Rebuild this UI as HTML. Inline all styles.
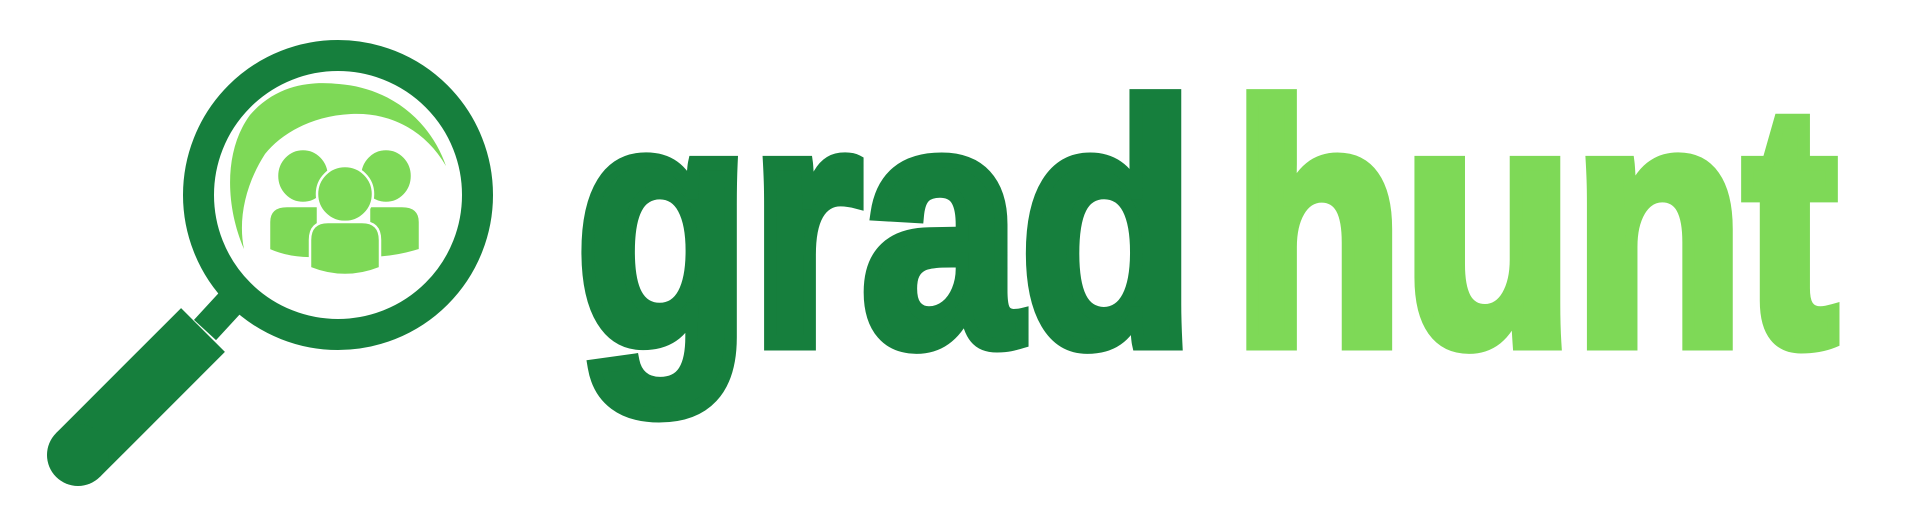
<!DOCTYPE html>
<html><head><meta charset="utf-8"><style>
html,body{margin:0;padding:0;background:#fff;width:1920px;height:524px;overflow:hidden}
svg{display:block}
</style></head><body>
<svg width="1920" height="524" viewBox="0 0 1920 524">
  <g>
    <circle cx="338" cy="195" r="139.5" fill="none" stroke="#167F3D" stroke-width="31"/>
    <line x1="240" y1="292" x2="205" y2="330" stroke="#167F3D" stroke-width="30"/>
    <line x1="203" y1="330" x2="78" y2="455" stroke="#167F3D" stroke-width="62"/>
    <circle cx="78" cy="455" r="31" fill="#167F3D"/>
    <path d="M244 249 C225 205 224 150 250 115 C280 80 320 82 339 84 C390 88 430 120 446 166 C425 130 390 112 351 114 C310 116 280 135 265 154 C245 185 238 220 244 249 Z" fill="#7ED957"/>
    <g fill="#7ED957" stroke="#fff" stroke-width="2.5">
      <ellipse cx="303" cy="176" rx="26" ry="27"/>
      <ellipse cx="386" cy="176" rx="26" ry="27"/>
      <path d="M269 258 L269 222 Q269 206 287 206 L318 206 L318 258 Q292 260 269 250 Z"/>
      <path d="M420 250 L420 222 Q420 206 402 206 L369 206 L369 258 Q395 258 420 250 Z"/>
      <ellipse cx="345" cy="194" rx="28" ry="28"/>
      <path d="M310 268 L310 240 Q310 222 328 222 L362 222 Q380 222 380 240 L380 268 Q345 282 310 268 Z"/>
    </g>
  </g>
  <text transform="translate(576,343) scale(0.84,1)" x="0" y="0" font-family="Liberation Sans, sans-serif" font-weight="bold" font-size="340" fill="#167F3D" stroke="#167F3D" stroke-width="15" stroke-linejoin="miter">grad</text>
  <text transform="translate(1233,343) scale(0.82,1)" x="0" y="0" font-family="Liberation Sans, sans-serif" font-weight="bold" font-size="340" fill="#7ED957" stroke="#7ED957" stroke-width="15" stroke-linejoin="miter">hunt</text>
</svg>
</body></html>
